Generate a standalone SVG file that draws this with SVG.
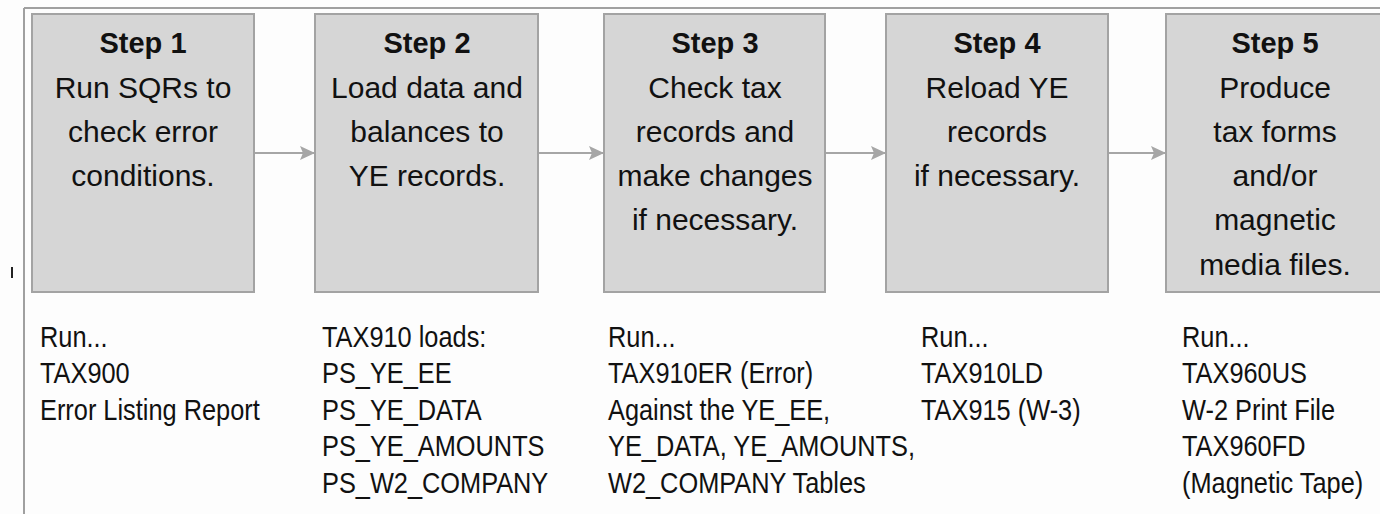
<svg xmlns="http://www.w3.org/2000/svg" width="1380" height="514" viewBox="0 0 1380 514">
<style>
.box{fill:#d6d6d6;stroke:#a3a3a3;stroke-width:2}
.t{font-family:"Liberation Sans",Arial,sans-serif;font-size:30px;fill:#111;text-anchor:middle}
.b{font-weight:bold;font-size:29px}
.n{font-family:"Liberation Sans",Arial,sans-serif;font-size:30px;fill:#111}
.c{stroke:#a6a6a6;stroke-width:2;fill:none}
</style>
<defs>
<marker id="ah" markerWidth="16" markerHeight="14" refX="15" refY="7" orient="auto" markerUnits="userSpaceOnUse">
<path d="M0,0 L15,7 L0,14 L3,7 Z" fill="#a6a6a6"/>
</marker>
</defs>
<rect x="0" y="0" width="1380" height="514" fill="#fdfdfd"/>
<line x1="24" y1="8" x2="1380" y2="8" stroke="#a0a0a0" stroke-width="2"/>
<line x1="24" y1="8" x2="24" y2="514" stroke="#a0a0a0" stroke-width="2"/>
<line x1="12" y1="267" x2="12" y2="278" stroke="#222" stroke-width="2"/>

<g id="connectors">
<line class="c" x1="254" y1="153" x2="315" y2="153" marker-end="url(#ah)"/>
<line class="c" x1="538" y1="153" x2="604" y2="153" marker-end="url(#ah)"/>
<line class="c" x1="825" y1="153" x2="886" y2="153" marker-end="url(#ah)"/>
<line class="c" x1="1108" y1="153" x2="1166" y2="153" marker-end="url(#ah)"/>
</g>

<g id="step1">
<rect class="box" x="32" y="14" width="222" height="278"/>
<text class="t b" x="143" y="53">Step 1</text>
<text class="t" x="143" y="98">Run SQRs to</text>
<text class="t" x="143" y="142">check error</text>
<text class="t" x="143" y="186">conditions.</text>
</g>
<g id="step2">
<rect class="box" x="315" y="14" width="223" height="278"/>
<text class="t b" x="427" y="53">Step 2</text>
<text class="t" x="427" y="98">Load data and</text>
<text class="t" x="427" y="142">balances to</text>
<text class="t" x="427" y="186">YE records.</text>
</g>
<g id="step3">
<rect class="box" x="604" y="14" width="221" height="278"/>
<text class="t b" x="715" y="53">Step 3</text>
<text class="t" x="715" y="98">Check tax</text>
<text class="t" x="715" y="142">records and</text>
<text class="t" x="715" y="186">make changes</text>
<text class="t" x="715" y="230">if necessary.</text>
</g>
<g id="step4">
<rect class="box" x="886" y="14" width="222" height="278"/>
<text class="t b" x="997" y="53">Step 4</text>
<text class="t" x="997" y="98">Reload YE</text>
<text class="t" x="997" y="142">records</text>
<text class="t" x="997" y="186">if necessary.</text>
</g>
<g id="step5">
<rect class="box" x="1166" y="14" width="222" height="278"/>
<text class="t b" x="1275" y="53">Step 5</text>
<text class="t" x="1275" y="98">Produce</text>
<text class="t" x="1275" y="142">tax forms</text>
<text class="t" x="1275" y="186">and/or</text>
<text class="t" x="1275" y="230">magnetic</text>
<text class="t" x="1275" y="275">media files.</text>
</g>

<g id="notes1" transform="translate(40,0) scale(0.845,1)">
<text class="n" x="0" y="347">Run...</text>
<text class="n" x="0" y="383.5">TAX900</text>
<text class="n" x="0" y="420">Error Listing Report</text>
</g>
<g id="notes2" transform="translate(322,0) scale(0.845,1)">
<text class="n" x="0" y="347">TAX910 loads:</text>
<text class="n" x="0" y="383.5">PS_YE_EE</text>
<text class="n" x="0" y="420">PS_YE_DATA</text>
<text class="n" x="0" y="456.5">PS_YE_AMOUNTS</text>
<text class="n" x="0" y="493">PS_W2_COMPANY</text>
</g>
<g id="notes3" transform="translate(608,0) scale(0.845,1)">
<text class="n" x="0" y="347">Run...</text>
<text class="n" x="0" y="383.5">TAX910ER (Error)</text>
<text class="n" x="0" y="420">Against the YE_EE,</text>
<text class="n" x="0" y="456.5">YE_DATA, YE_AMOUNTS,</text>
<text class="n" x="0" y="493">W2_COMPANY Tables</text>
</g>
<g id="notes4" transform="translate(921,0) scale(0.845,1)">
<text class="n" x="0" y="347">Run...</text>
<text class="n" x="0" y="383.5">TAX910LD</text>
<text class="n" x="0" y="420">TAX915 (W-3)</text>
</g>
<g id="notes5" transform="translate(1182,0) scale(0.845,1)">
<text class="n" x="0" y="347">Run...</text>
<text class="n" x="0" y="383.5">TAX960US</text>
<text class="n" x="0" y="420">W-2 Print File</text>
<text class="n" x="0" y="456.5">TAX960FD</text>
<text class="n" x="0" y="493">(Magnetic Tape)</text>
</g>
</svg>
